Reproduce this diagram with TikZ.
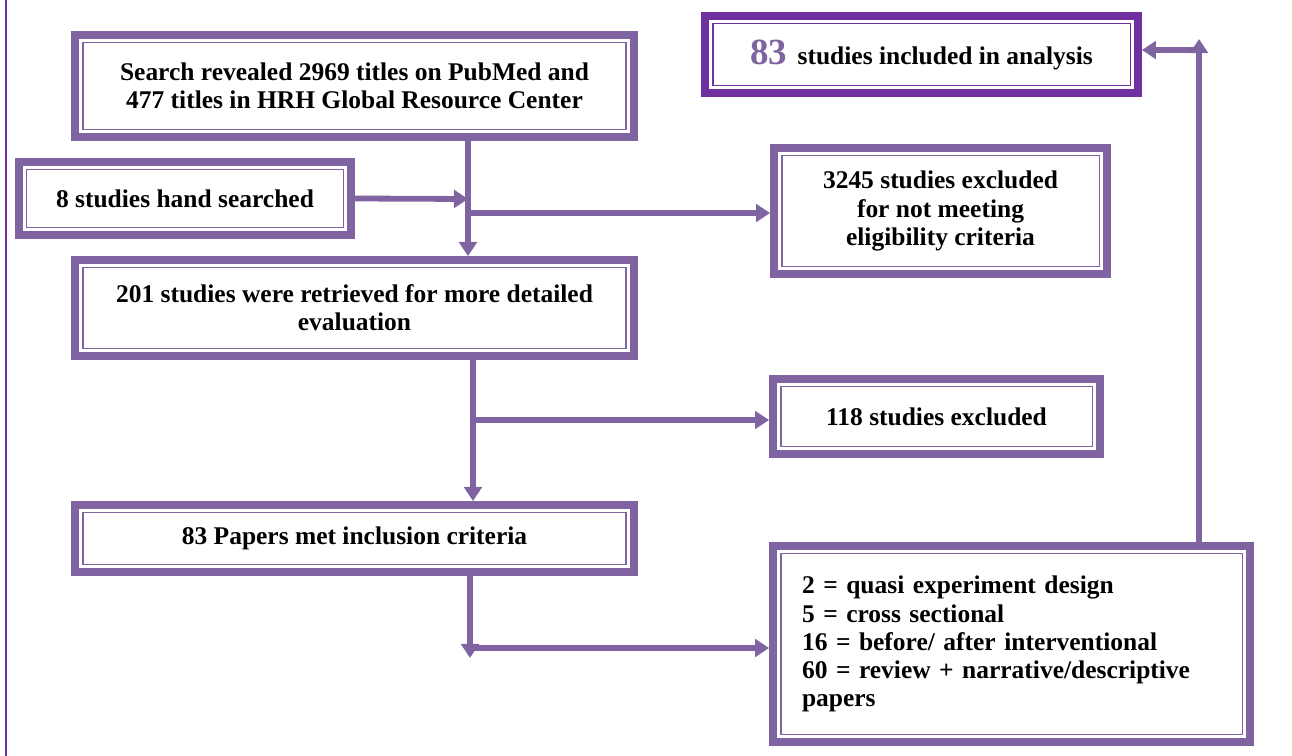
\documentclass[tikz,border=0pt]{standalone}
\usepackage{fontspec}
\setmainfont{Liberation Serif}
\usetikzlibrary{arrows.meta, calc}

\definecolor{boxc}{HTML}{8064A2}
\definecolor{darkc}{HTML}{7030A0}

\tikzset{
	box/.style = {draw=#1, line width=4.5pt, fill=white, inner sep=0pt, align=center,
		font=\bfseries\fontsize{14.5}{16}\selectfont,
		path picture={\draw[#1, line width=1.1pt]
			([shift={(0.15cm,0.15cm)}]path picture bounding box.south west) rectangle
			([shift={(-0.15cm,-0.15cm)}]path picture bounding box.north east);}},
	box/.default = boxc,
	flow/.style = {draw=boxc, line width=3.3pt, -{Triangle[length=8pt,width=10pt]}}
}

\begin{document}
\begin{tikzpicture} [x = 0.02cm, y = -0.02cm]

	\useasboundingbox (0, 0) rectangle (1292, 756);

	% page rule on the left
	\draw[darkc, line width=1.7pt] (6, 0) -- (6, 756);

% Boxes.

	\node [box, minimum width=11.18cm, minimum height=2.04cm] (search) at (354.5, 86)
		{Search revealed 2969 titles on PubMed and\\477 titles in HRH Global Resource Center};
	\node [box, minimum width=6.64cm, minimum height=1.46cm] (hand) at (185, 198.5)
		{8 studies hand searched};
	\node [box, minimum width=11.18cm, minimum height=1.92cm] (retr) at (354.5, 308)
		{201 studies were retrieved for more detailed\\evaluation};
	\node [box, minimum width=11.18cm, minimum height=1.34cm] (papers) at (354.5, 538.5)
		{83 Papers met inclusion criteria};

	\node [box=darkc, minimum width=8.66cm, minimum height=1.54cm] (incl) at (921.5, 54.5)
		{\textcolor{boxc}{\fontsize{21}{21}\selectfont 83}\, studies included in analysis};
	\node [box, minimum width=6.66cm, minimum height=2.52cm] (exclA) at (940.5, 211)
		{3245 studies excluded\\for not meeting\\eligibility criteria};
	\node [box, minimum width=6.54cm, minimum height=1.5cm] (exclB) at (936.5, 416.5)
		{118 studies excluded};
	\node [box, minimum width=9.54cm, minimum height=3.92cm, text width=8.38cm, align=left] (design) at (1011.5, 644)
		{2 = quasi experiment design\\5 = cross sectional\\16 = before/ after interventional\\60 = review + narrative/descriptive\\papers\\[-6pt]};

% Junctions.

	\coordinate (handIn) at (468, 199);
	\coordinate (exclAOut) at (468, 213);
	\coordinate (exclBOut) at (473, 420);
	\coordinate (designOut) at (470, 648);
	\coordinate (designTip) at (470, 658);
	\coordinate (inclIn) at (1199, 50);
	\coordinate (inclTip) at (1199, 39);

% Draw connectors.

	\draw[flow] (search.south -| handIn) -- (retr.north -| handIn);
	\draw[flow] (hand.east) -- (handIn);
	\draw[flow] (exclAOut) -- (exclAOut -| exclA.west);

	\draw[flow] (retr.south -| exclBOut) -- (papers.north -| exclBOut);
	\draw[flow] (exclBOut) -- (exclBOut -| exclB.west);

	\draw[flow] (papers.south -| designOut) -- (designTip);
	\draw[flow] (designOut) -- (designOut -| design.west);

	\draw[flow] (design.north -| inclIn) -- (inclTip);
	\draw[flow] (inclIn) -- (inclIn -| incl.east);

\end{tikzpicture}
\end{document}
